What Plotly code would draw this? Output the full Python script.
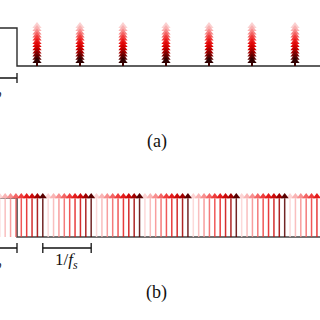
import plotly.graph_objects as go

# ---------------- data (time unit = pulse width T_p, amplitude unit = pulse height) -------------
pulse_t = [-1.0, -1.0, 0.0, 0.0, 7.1]
pulse_a = [0.0, 1.0, 1.0, 0.0, 0.0]

# (a) bursts: all samples of a burst at the same instant, stacked heights
burst_times_a = [0.465, 1.465, 2.465, 3.465, 4.465, 5.465, 6.465]
stack_heights_a = [1.16, 1.08, 0.99, 0.91, 0.83, 0.74, 0.66, 0.57, 0.49, 0.41, 0.32, 0.24]

# (b) samples spread with spacing; colour level cycles through 9 shades
sample_times_b = [-0.4, -0.275, -0.15, -0.025, 0.1, 0.225, 0.35, 0.475,
                  0.6, 0.725, 0.85, 0.975, 1.1, 1.225, 1.35, 1.475, 1.6,
                  1.725, 1.85, 1.975, 2.1, 2.225, 2.35, 2.475, 2.6, 2.725,
                  2.85, 2.975, 3.1, 3.225, 3.35, 3.475, 3.6, 3.725, 3.85,
                  3.975, 4.1, 4.225, 4.35, 4.475, 4.6, 4.725, 4.85, 4.975,
                  5.1, 5.225, 5.35, 5.475, 5.6, 5.725, 5.85, 5.975, 6.1,
                  6.225, 6.35, 6.475, 6.6, 6.725, 6.85, 6.975]
sample_height_b = 1.13

bracket_tp = [-1.0, 0.0]
bracket_fs = [0.6, 1.725]

# ---------------- styles ----------------
colors_a = ['#fbd0d0', '#f9b0b0', '#f78888', '#f46060', '#f03838', '#ea1a1a',
            '#e00808', '#cc0000', '#a80000', '#800000', '#580000', '#300000']
colors_b = ['#fcd4d4', '#f9b4b4', '#f78e8e', '#f36464', '#ee3c3c', '#e41c1c',
            '#cc0a0a', '#a00000', '#5a0000']
HEAD_A = 8
HEAD_B = 7
PPU_A = 38.0   # px per amplitude unit in panel (a)
PPU_B = 39.0
LINE_C = '#2b2b2b'
FONT = 'Liberation Serif'

fig = go.Figure()


def add_arrows(times, heights, levels, colors, yaxis, ppu, shaft_op, head):
    r = head / 2.0
    for lev, col in enumerate(colors):
        xs, ys, mx, my = [], [], [], []
        for t, h, l in zip(times, heights, levels):
            if l != lev:
                continue
            xs += [t, t, None]
            ys += [0, h - 1.5 * r / ppu, None]
            mx.append(t)
            my.append(h - r / ppu)
        if not mx:
            continue
        fig.add_trace(go.Scatter(x=xs, y=ys, mode='lines', yaxis=yaxis,
                                 line=dict(color=col, width=1.5), opacity=shaft_op,
                                 hoverinfo='skip', showlegend=False))
        fig.add_trace(go.Scatter(x=mx, y=my, mode='markers', yaxis=yaxis,
                                 marker=dict(symbol='triangle-up', size=head, color=col,
                                             line=dict(width=0)),
                                 hoverinfo='skip', showlegend=False))


def add_bracket(x0, x1, ylev, yaxis, ppu):
    d = 5.0 / ppu
    fig.add_trace(go.Scatter(x=[x0, x0, None, x0, x1, None, x1, x1],
                             y=[ylev - d, ylev + d, None, ylev, ylev, None, ylev - d, ylev + d],
                             mode='lines', yaxis=yaxis, line=dict(color='#111', width=1.3),
                             hoverinfo='skip', showlegend=False))


# ---- panel (a) ----
fig.add_trace(go.Scatter(x=pulse_t, y=pulse_a, mode='lines', yaxis='y',
                         line=dict(color=LINE_C, width=1.4), hoverinfo='skip', showlegend=False))
ta, ha, la = [], [], []
for t in burst_times_a:
    for i, h in enumerate(stack_heights_a):
        ta.append(t); ha.append(h); la.append(i)
add_arrows(ta, ha, la, colors_a, 'y', PPU_A, 1.0, HEAD_A)
add_bracket(bracket_tp[0], bracket_tp[1], -12 / PPU_A, 'y', PPU_A)

# ---- panel (b) ----
fig.add_trace(go.Scatter(x=pulse_t, y=pulse_a, mode='lines', yaxis='y2',
                         line=dict(color='#444', width=1.6), hoverinfo='skip', showlegend=False))
lb = [i % 9 for i in range(len(sample_times_b))]
add_arrows(sample_times_b, [sample_height_b] * len(sample_times_b), lb, colors_b, 'y2', PPU_B, 0.85, HEAD_B)
add_bracket(bracket_fs[0], bracket_fs[1], -11 / PPU_B, 'y2', PPU_B)
add_bracket(bracket_tp[0], bracket_tp[1], -11 / PPU_B, 'y2', PPU_B)

# T_p label: centred under the (partly cropped) bracket; anchored by its right edge
tp_right = -0.32
annotations = [
    dict(x=tp_right, y=-24 / PPU_A, xref='x', yref='y', xanchor='right',
         text='<i>T<sub>p</sub></i>', showarrow=False, font=dict(family=FONT, size=17, color='#111')),
    dict(x=tp_right, y=-24 / PPU_B, xref='x', yref='y2', xanchor='right',
         text='<i>T<sub>p</sub></i>', showarrow=False, font=dict(family=FONT, size=17, color='#111')),
    dict(x=(bracket_fs[0] + bracket_fs[1]) / 2, y=-24 / PPU_B, xref='x', yref='y2',
         text='1/<i>f<sub>s</sub></i>', showarrow=False, font=dict(family=FONT, size=17, color='#111')),
    dict(x=0.49, y=1 - 141 / 320, xref='paper', yref='paper', text='(a)', showarrow=False,
         font=dict(family=FONT, size=18, color='#111')),
    dict(x=0.49, y=1 - 305 / 320, xref='paper', yref='paper', text='(b)', showarrow=False,
         font=dict(family=FONT, size=18, color='#111')),
]

x0 = -17 / 43.0
x1 = 303 / 43.0
fig.update_layout(
    width=320, height=320, margin=dict(l=0, r=0, t=0, b=0),
    paper_bgcolor='white', plot_bgcolor='white', showlegend=False,
    xaxis=dict(range=[x0, x1], visible=False, domain=[0, 1]),
    yaxis=dict(range=[-(160 - 66) / PPU_A, 66 / PPU_A], domain=[0.5, 1], visible=False, anchor='x'),
    yaxis2=dict(range=[-(320 - 237) / PPU_B, (237 - 160) / PPU_B], domain=[0, 0.5], visible=False, anchor='x'),
    annotations=annotations,
)

fig.write_html('out.html')
